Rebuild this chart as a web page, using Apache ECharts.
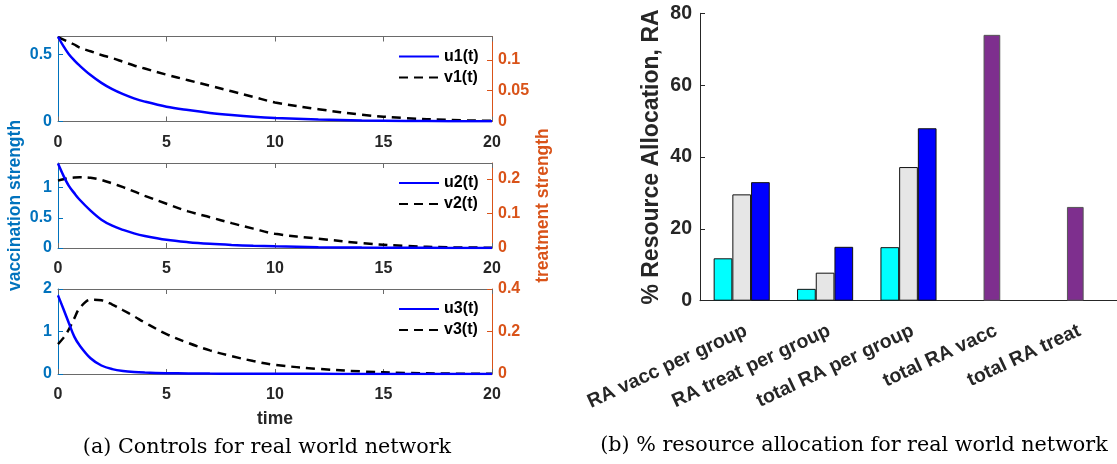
<!DOCTYPE html>
<html>
<head>
<meta charset="utf-8">
<script src="https://cdn.jsdelivr.net/npm/echarts@6/dist/echarts.min.js"></script>
<style>
html,body{margin:0;padding:0;background:#fff;}
#chart{width:1117px;height:464px;}
</style>
</head>
<body>
<div id="chart"></div>
<script>
// ---------- data ----------
const timeAxis = [0, 0.25, 0.5, 0.75, 1, 1.5, 2, 2.5, 3, 3.5, 4, 5, 6, 7, 8, 9, 10, 12, 14, 16, 18, 20];
const u1 = [0.63, 0.56, 0.50, 0.455, 0.415, 0.345, 0.287, 0.24, 0.203, 0.172, 0.148, 0.11, 0.085, 0.064, 0.048, 0.035, 0.026, 0.015, 0.008, 0.004, 0.002, 0.001];
const v1 = [0.137, 0.133, 0.129, 0.125, 0.12, 0.114, 0.108, 0.103, 0.097, 0.091, 0.086, 0.076, 0.067, 0.058, 0.049, 0.04, 0.031, 0.02, 0.011, 0.0055, 0.0025, 0.001];
const u2 = [1.40, 1.2, 1.03, 0.91, 0.80, 0.62, 0.47, 0.37, 0.30, 0.243, 0.2, 0.136, 0.097, 0.07, 0.051, 0.037, 0.027, 0.014, 0.007, 0.0035, 0.0015, 0.0005];
const v2 = [0.195, 0.199, 0.202, 0.204, 0.205, 0.203, 0.197, 0.187, 0.176, 0.164, 0.151, 0.128, 0.106, 0.089, 0.072, 0.056, 0.041, 0.027, 0.014, 0.006, 0.002, 0.001];
const u3 = [1.85, 1.53, 1.2, 0.88, 0.67, 0.37, 0.2, 0.115, 0.07, 0.046, 0.034, 0.02, 0.013, 0.009, 0.007, 0.005, 0.004, 0.003, 0.002, 0.001, 0.001, 0];
const v3 = [0.141, 0.17, 0.21, 0.262, 0.31, 0.35, 0.347, 0.327, 0.3, 0.272, 0.242, 0.188, 0.146, 0.111, 0.084, 0.061, 0.043, 0.024, 0.012, 0.005, 0.002, 0.001];

const timeTicks = [0, 5, 10, 15, 20];
const leftTicks = [[0, 0.5], [0, 0.5, 1], [0, 1, 2]];
const rightTicks = [[0, 0.05, 0.1], [0, 0.1, 0.2], [0, 0.2, 0.4]];
const leftMax = [0.632, 1.41, 2];
const rightMax = [0.138, 0.246, 0.4];

const categories = ['RA vacc per group', 'RA treat per group', 'total RA per group', 'total RA vacc', 'total RA treat'];
const raGroup1 = [11.8, 3.3, 14.9];
const raGroup2 = [29.6, 7.8, 37.2];
const raGroup3 = [33.0, 15.0, 48.0];
const raTotal = [74.0, 26.1];
const raTicks = [0, 20, 40, 60, 80];

// ---------- layout ----------
const FONT = '"Liberation Sans", Arial, Helvetica, sans-serif';
const BLUE_AX = '#0072BD', ORANGE_AX = '#D95319', DARK = '#262626';
const gridTops = [36.5, 163, 289];
const gridH = 85;
const pairs = (ys) => timeAxis.map((t, i) => [t, ys[i]]);
const uSeries = [u1, u2, u3], vSeries = [v1, v2, v3];

const grids = [], xAxes = [], yAxes = [], series = [], legends = [];
for (let k = 0; k < 3; k++) {
  grids.push({left: 58, top: gridTops[k], width: 434, height: gridH});
  xAxes.push({
    gridIndex: k, type: 'value', min: 0, max: 20, interval: 5, position: 'bottom',
    axisLine: {show: true, onZero: false, lineStyle: {color: '#6a6a6a', width: 1}},
    axisTick: {show: true, inside: true, length: 5, lineStyle: {color: '#6a6a6a'}, customValues: timeTicks},
    axisLabel: {show: true, margin: 13, color: DARK, fontSize: 16, fontWeight: 'bold', fontFamily: FONT, customValues: timeTicks},
    splitLine: {show: false},
    name: k === 2 ? 'time' : '', nameLocation: 'middle', nameGap: 36,
    nameTextStyle: {color: DARK, fontSize: 17.5, fontWeight: 'bold', fontFamily: FONT}
  });
  xAxes.push({
    gridIndex: k, type: 'value', min: 0, max: 20, interval: 5, position: 'top',
    axisLine: {show: true, onZero: false, lineStyle: {color: '#6a6a6a', width: 1}},
    axisTick: {show: true, inside: true, length: 5, lineStyle: {color: '#6a6a6a'}, customValues: timeTicks},
    axisLabel: {show: false}, splitLine: {show: false}
  });
  yAxes.push({
    gridIndex: k, type: 'value', min: 0, max: leftMax[k], position: 'left',
    axisLine: {show: true, onZero: false, lineStyle: {color: BLUE_AX, width: 1}},
    axisTick: {show: true, inside: true, length: 5, lineStyle: {color: BLUE_AX}, customValues: leftTicks[k]},
    axisLabel: {show: true, margin: 6, color: BLUE_AX, fontSize: 16, fontWeight: 'bold', fontFamily: FONT, customValues: leftTicks[k]},
    splitLine: {show: false},
    name: k === 1 ? 'vaccination strength' : '', nameLocation: 'middle', nameRotate: 90, nameGap: 34,
    nameTextStyle: {color: BLUE_AX, fontSize: 17.5, fontWeight: 'bold', fontFamily: FONT}
  });
  yAxes.push({
    gridIndex: k, type: 'value', min: 0, max: rightMax[k], position: 'right',
    axisLine: {show: true, onZero: false, lineStyle: {color: ORANGE_AX, width: 1}},
    axisTick: {show: true, inside: true, length: 5, lineStyle: {color: ORANGE_AX}, customValues: rightTicks[k]},
    axisLabel: {show: true, margin: 6, color: ORANGE_AX, fontSize: 16, fontWeight: 'bold', fontFamily: FONT, customValues: rightTicks[k]},
    splitLine: {show: false},
    name: k === 1 ? 'treatment strength' : '', nameLocation: 'middle', nameRotate: 90, nameGap: 42,
    nameTextStyle: {color: ORANGE_AX, fontSize: 17.5, fontWeight: 'bold', fontFamily: FONT}
  });
  const uName = 'u' + (k + 1) + '(t)', vName = 'v' + (k + 1) + '(t)';
  series.push({
    name: uName, type: 'line', xAxisIndex: 2 * k, yAxisIndex: 2 * k, data: pairs(uSeries[k]),
    symbol: 'none', smooth: 0.35, lineStyle: {color: '#0000FF', width: 2.5}, itemStyle: {color: '#0000FF'}, z: 3
  });
  series.push({
    name: vName, type: 'line', xAxisIndex: 2 * k, yAxisIndex: 2 * k + 1, data: pairs(vSeries[k]),
    symbol: 'none', smooth: 0.35, lineStyle: {color: '#000000', width: 2.5, type: [9, 6]}, itemStyle: {color: '#000000'}, z: 2
  });
  legends.push({
    orient: 'vertical', left: 398, top: gridTops[k] + 12, padding: 0, itemGap: 5,
    itemWidth: 40, itemHeight: 14, data: [uName, vName], selectedMode: false,
    itemStyle: {opacity: 0, borderWidth: 0},
    textStyle: {color: '#000', fontSize: 16, fontWeight: 'bold', fontFamily: FONT}
  });
}

// bar chart
grids.push({left: 700, top: 13.3, width: 419, height: 287.4});
xAxes.push({
  gridIndex: 3, type: 'category', data: categories, position: 'bottom',
  axisLine: {show: true, lineStyle: {color: DARK, width: 1}},
  axisTick: {show: false},
  axisLabel: {interval: 0, rotate: 25, margin: 20, verticalAlign: 'top', color: DARK, fontSize: 19.5, fontWeight: 'bold', fontFamily: FONT}
});
xAxes.push({gridIndex: 3, type: 'category', data: categories, show: false});
yAxes.push({
  gridIndex: 3, type: 'value', min: 0, max: 80, interval: 20, position: 'left',
  axisLine: {show: true, lineStyle: {color: DARK, width: 1}},
  axisTick: {show: true, inside: true, length: 5, lineStyle: {color: DARK}, customValues: raTicks},
  axisLabel: {margin: 8, color: DARK, fontSize: 19.5, fontWeight: 'bold', fontFamily: FONT, customValues: raTicks},
  splitLine: {show: false},
  name: '% Resource Allocation, RA', nameLocation: 'middle', nameRotate: 90, nameGap: 37,
  nameTextStyle: {color: DARK, fontSize: 23, fontWeight: 'bold', fontFamily: FONT}
});
const pad = (arr) => categories.map((c, i) => (i < arr.length ? arr[i] : null));
const barCols = ['#00FFFF', '#E6E6E6', '#0000FF'];
[raGroup1, raGroup2, raGroup3].forEach((arr, i) => {
  series.push({
    type: 'bar', xAxisIndex: 6, yAxisIndex: 6, data: pad(arr), barWidth: 18.7, barGap: '0%',
    itemStyle: {color: barCols[i], borderColor: '#111', borderWidth: 1}
  });
});
series.push({
  type: 'bar', xAxisIndex: 7, yAxisIndex: 6,
  data: categories.map((c, i) => (i >= 3 ? raTotal[i - 3] : null)),
  barWidth: 16.7, itemStyle: {color: '#7E2F8E', borderColor: '#555', borderWidth: 1}
});

const chart = echarts.init(document.getElementById('chart'), null, {renderer: 'canvas'});
chart.setOption({
  animation: false,
  backgroundColor: '#fff',
  grid: grids, xAxis: xAxes, yAxis: yAxes, series: series, legend: legends,
  graphic: [
    {type: 'text', x: 267, y: 448, style: {text: '(a) Controls for real world network', fill: '#000',
      font: '20.7px "DejaVu Serif", "Liberation Serif", serif', align: 'center', verticalAlign: 'middle'}},
    {type: 'text', x: 854, y: 446, style: {text: '(b) % resource allocation for real world network', fill: '#000',
      font: '20.7px "DejaVu Serif", "Liberation Serif", serif', align: 'center', verticalAlign: 'middle'}}
  ]
});
</script>
</body>
</html>
